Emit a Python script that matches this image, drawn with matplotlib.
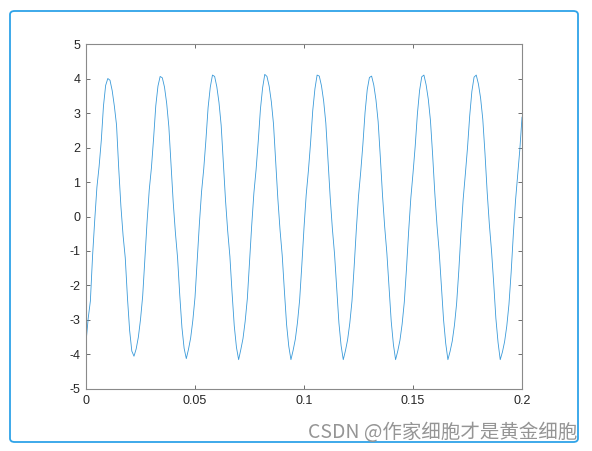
import matplotlib.pyplot as plt
from matplotlib.patches import FancyBboxPatch

# time axis in ms (1 ms steps), signal values
t_ms = list(range(0, 201))
signal = [
    -3.65, -2.95, -2.45, -1.15, -0.10, 0.85, 1.45, 2.20, 3.20, 3.80,
    4.00, 3.95, 3.65, 3.20, 2.65, 1.40, 0.30, -0.55, -1.20, -2.35,
    -3.30, -3.90, -4.05, -3.84, -3.50, -2.98, -2.30, -1.22, -0.16, 0.77,
    1.41, 2.27, 3.21, 3.78, 4.06, 4.02, 3.75, 3.28, 2.60, 1.48,
    0.41, -0.47, -1.20, -2.28, -3.22, -3.82, -4.12, -3.85, -3.52, -3.01,
    -2.34, -1.28, -0.21, 0.72, 1.38, 2.22, 3.16, 3.75, 4.10, 4.06,
    3.76, 3.30, 2.64, 1.54, 0.46, -0.43, -1.16, -2.22, -3.17, -3.79,
    -4.15, -3.86, -3.54, -3.04, -2.38, -1.34, -0.26, 0.68, 1.35, 2.18,
    3.11, 3.73, 4.12, 4.06, 3.78, 3.33, 2.68, 1.60, 0.51, -0.39,
    -1.13, -2.16, -3.13, -3.76, -4.15, -3.88, -3.56, -3.07, -2.41, -1.40,
    -0.32, 0.63, 1.32, 2.13, 3.07, 3.70, 4.10, 4.07, 3.79, 3.35,
    2.71, 1.66, 0.56, -0.35, -1.09, -2.10, -3.08, -3.74, -4.15, -3.89,
    -3.57, -3.09, -2.45, -1.45, -0.37, 0.59, 1.29, 2.09, 3.02, 3.68,
    4.03, 4.07, 3.81, 3.38, 2.75, 1.72, 0.62, -0.30, -1.06, -2.05,
    -3.04, -3.71, -4.15, -3.90, -3.59, -3.12, -2.48, -1.51, -0.42, 0.54,
    1.26, 2.04, 2.97, 3.65, 4.05, 4.10, 3.82, 3.40, 2.78, 1.78,
    0.67, -0.26, -1.02, -1.99, -2.99, -3.68, -4.15, -3.91, -3.61, -3.15,
    -2.52, -1.57, -0.47, 0.50, 1.23, 2.00, 2.92, 3.63, 4.04, 4.10,
    3.84, 3.43, 2.82, 1.84, 0.72, -0.22, -0.99, -1.93, -2.95, -3.65,
    -4.15, -3.93, -3.63, -3.18, -2.55, -1.63, -0.53, 0.45, 1.20, 1.95,
    2.88,
]
t = [v / 1000 for v in t_ms]

xticks = [0, 0.05, 0.1, 0.15, 0.2]
xticklabels = ["0", "0.05", "0.1", "0.15", "0.2"]
yticks = list(range(-5, 6))

plt.rcParams["font.family"] = ["Liberation Sans", "DejaVu Sans"]
plt.rcParams["axes.unicode_minus"] = False

fig = plt.figure(figsize=(5.92, 4.51), dpi=100)
ax = fig.add_axes([0.1453, 0.1375, 0.7365, 0.7649])

ax.plot(t, signal, color="#3a9ad9", linewidth=0.6)

ax.set_xlim(0, 0.2)
ax.set_ylim(-5, 5)
ax.set_xticks(xticks)
ax.set_xticklabels(xticklabels)
ax.set_yticks(yticks)
ax.tick_params(direction="in", length=3, width=0.6, color="#555555",
               labelsize=9, labelcolor="#262626", top=True, right=True,
               pad=4)
for s in ax.spines.values():
    s.set_color("#8a8a8a")
    s.set_linewidth(0.8)

# blue rounded frame around the figure
frame = FancyBboxPatch((10 / 592, 1 - 442 / 451), 568 / 592, 431 / 451,
                       boxstyle="round,pad=0,rounding_size=0.008",
                       transform=fig.transFigure, fill=False,
                       edgecolor="#2ea3e8", linewidth=1.3)
fig.patches.append(frame)

fig.text(577 / 592, 1 - 432 / 451, "CSDN @作家细胞才是黄金细胞",
         ha="right", va="center", fontsize=14, color="#959595",
         family=["Noto Sans CJK SC", "DejaVu Sans"])

fig.savefig("out.png", dpi=100)
